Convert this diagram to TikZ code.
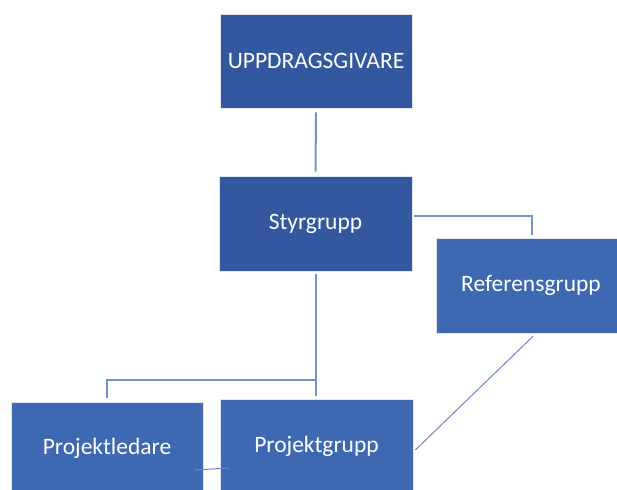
\documentclass[tikz,border=0pt]{standalone}
\usepackage{fontspec}
\setmainfont{Carlito}
\definecolor{darkbox}{HTML}{3358A0}
\definecolor{lightbox}{HTML}{3E68B2}
\definecolor{connblue}{HTML}{7290D2}
\begin{document}
\begin{tikzpicture}[x=1pt,y=-1pt,
  box/.style={rectangle, draw=white!85!lightbox, line width=0.6pt, text=white, font=\fontsize{23.5}{28}\selectfont, inner sep=0pt},
  topbox/.style={box, fill=darkbox},
  lowbox/.style={box, fill=lightbox},
  conn/.style={draw=connblue, line width=2pt},
  thin/.style={draw=connblue!80!lightbox, line width=1pt}]
\fill[white] (0,0) rectangle (617,489);
\useasboundingbox (0,0) rectangle (617,489);
\clip (0,0) rectangle (617,489);
\node[topbox, minimum width=192pt, minimum height=94pt] (upp) at (316,61) {UPPDRAGSGIVARE};
\node[topbox, minimum width=193pt, minimum height=95pt] (sty) at (315.5,223.5) {Styrgrupp};
\node[lowbox, minimum width=190pt, minimum height=95pt] (ref) at (531,285.5) {Referensgrupp};
\node[lowbox, minimum width=192pt, minimum height=92pt] (pl) at (107,448) {Projektledare};
\node[lowbox, minimum width=193pt, minimum height=95pt] (pg) at (316.5,446.5) {Projektgrupp};
\coordinate (j) at (315.5,380);
\draw[conn] ([yshift=-4pt]upp.south) -- ([yshift=4pt]sty.north);
\draw[conn] ([xshift=2pt,yshift=7.5pt]sty.east) -| ([xshift=1pt,yshift=3pt]ref.north);
\draw[conn] ([yshift=-3pt]sty.south) -- ([yshift=3pt]sty.south |- pg.north);
\draw[conn] (j) -| ([yshift=4pt]pl.north);
\draw[thin] ([xshift=2pt,yshift=-3pt]ref.south) -- ([xshift=2pt,yshift=-3.5pt]pg.east);
\draw[thin] ([xshift=-9pt,yshift=-22pt]pl.east) -- ([xshift=10pt,yshift=-21.5pt]pg.west);
\end{tikzpicture}
\end{document}
